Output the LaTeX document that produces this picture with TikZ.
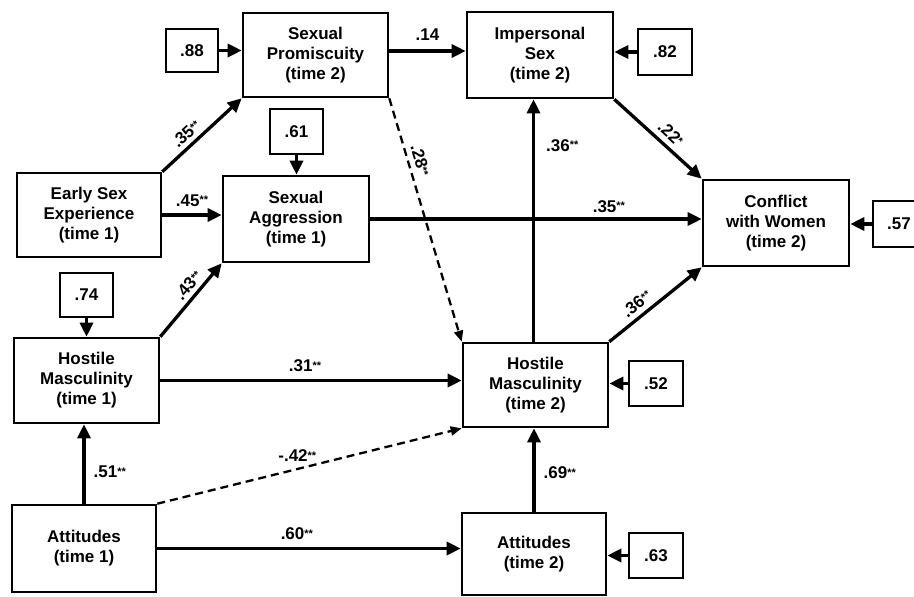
\documentclass[tikz,border=0pt]{standalone}
\usepackage{fontspec}
\setmainfont{Liberation Sans}
\usetikzlibrary{arrows.meta,calc}
\newcommand{\st}[1]{\raisebox{0.25ex}{\fontsize{11}{11}\selectfont #1}}
\tikzset{
  txt/.style={font=\bfseries\fontsize{17}{20}\selectfont},
  box/.style={txt, draw, line width=2.6pt, align=center, inner sep=0pt},
  sz/.style 2 args={minimum width=#1pt, minimum height=#2pt},
  arr/.style={line width=3.3pt, -{Triangle[length=14pt,width=13pt]}},
  darr/.style={line width=2.3pt, dash pattern=on 8pt off 5pt, -{Triangle[length=11pt,width=9pt]}},
  lab/.style={txt, inner sep=1pt},
}
\begin{document}
\begin{tikzpicture}[x=1pt,y=-1pt]
\useasboundingbox (0,0) rectangle (914,597);
\clip (0,0) rectangle (914,597);
% main boxes
\node[box, sz={145}{84}] (SP) at (315.5,55) {Sexual\\Promiscuity\\(time 2)};
\node[box, sz={146}{86}] (IS) at (540,55) {Impersonal\\Sex\\(time 2)};
\node[box, sz={146}{86}] (SA) at (296,219) {Sexual\\Aggression\\(time 1)};
\node[box, sz={144}{84}] (ESE) at (89,215) {Early Sex\\Experience\\(time 1)};
\node[box, sz={146}{86}] (CW) at (776,223) {Conflict\\with Women\\(time 2)};
\node[box, sz={145}{85}] (HM1) at (86.5,380.5) {Hostile\\Masculinity\\(time 1)};
\node[box, sz={145}{84}] (HM2) at (535.5,385) {Hostile\\Masculinity\\(time 2)};
\node[box, sz={144}{87}] (AT1) at (84,548.5) {Attitudes\\(time 1)};
\node[box, sz={144}{82}] (AT2) at (534,554) {Attitudes\\(time 2)};
% error boxes
\node[box, sz={52}{43}] (e88) at (192,50.5) {.88};
\node[box, sz={54}{46}] (e82) at (665,52) {.82};
\node[box, sz={53}{45}] (e61) at (296.5,131.5) {.61};
\node[box, sz={52}{46}] (e57) at (899,224) {.57};
\node[box, sz={53}{44}] (e74) at (86.5,295) {.74};
\node[box, sz={54}{45}] (e52) at (656,383.5) {.52};
\node[box, sz={54}{45}] (e63) at (656,555.5) {.63};
% error arrows
\draw[arr] (e88.east) -- (e88.east -| SP.west);
\draw[arr] (e82.west) -- (e82.west -| IS.east);
\draw[arr] (e61.south) -- (e61.south |- SA.north);
\draw[arr] (e57.west) -- (e57.west -| CW.east);
\draw[arr] (e74.south) -- (e74.south |- HM1.north);
\draw[arr] (e52.west) -- (e52.west -| HM2.east);
\draw[arr] (e63.west) -- (e63.west -| AT2.east);
% paths
\draw[arr] ($(SP.east)+(0,-4)$) -- ($(SP.east -| IS.west)+(0,-4)$) node[lab, midway, above=8pt] {.14};
\draw[arr] (ESE.north east) -- (SP.south west) node[lab, pos=0.4, sloped, above=3pt] {.35\st{**}};
\draw[arr] (ESE.east) -- (ESE.east -| SA.west) node[lab, midway, above=6pt] {.45\st{**}};
\draw[arr] (SA.east) -- (SA.east -| CW.west) node[lab, pos=0.72, above=4pt] {.35\st{**}};
\draw[arr] (HM1.north east) -- (SA.south west) node[lab, pos=0.6, sloped, above=3pt] {.43\st{**}};
\draw[arr] (HM1.east) -- (HM1.east -| HM2.west) node[lab, pos=0.48, above=6pt] {.31\st{**}};
\draw[arr] (AT1.north) -- (AT1.north |- HM1.south) node[lab, pos=0.4, right=7pt] {.51\st{**}};
\draw[darr] (AT1.north east) -- (HM2.south west) node[lab, pos=0.46, above=5pt] {-.42\st{**}};
\draw[arr] (AT1.east) -- (AT1.east -| AT2.west) node[lab, pos=0.46, above=6pt] {.60\st{**}};
\draw[darr] (SP.south east) -- (HM2.north west) node[lab, pos=0.27, sloped, above=4pt] {.28\st{**}};
\draw[arr] ($(HM2.north)+(-2,0)$) -- ($(HM2.north |- IS.south)+(-2,0)$) node[lab, pos=0.81, right=10pt] {.36\st{**}};
\draw[arr] (IS.south east) -- (CW.north west) node[lab, pos=0.55, sloped, above=4pt] {.22\st{*}};
\draw[arr] (HM2.north east) -- (CW.south west) node[lab, pos=0.38, sloped, above=4pt] {.36\st{**}};
\draw[arr] (AT2.north) -- (AT2.north |- HM2.south) node[lab, pos=0.47, right=7pt] {.69\st{**}};
\end{tikzpicture}
\end{document}
